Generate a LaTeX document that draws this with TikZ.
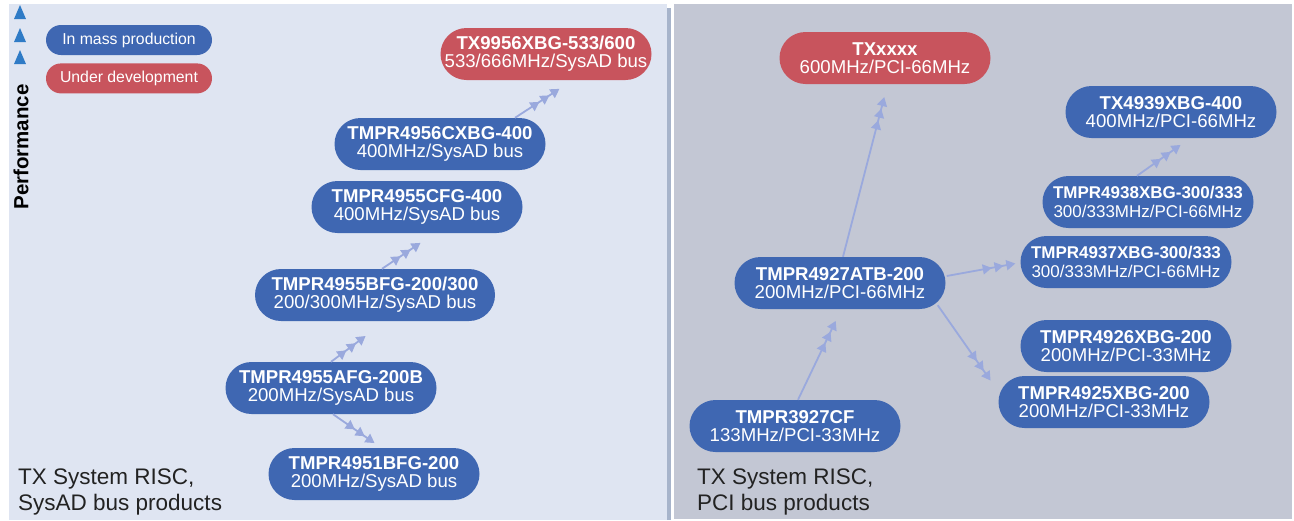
\documentclass[tikz,border=0pt]{standalone}
\usepackage{fontspec}
\setmainfont{Liberation Sans}
\usepackage{tikz}
\usetikzlibrary{shapes,arrows.meta,positioning}
\definecolor{chipblue}{RGB}{63,103,178}
\definecolor{devred}{RGB}{200,84,93}
\definecolor{sysadbg}{RGB}{223,229,242}
\definecolor{pcibg}{RGB}{195,199,212}
\definecolor{splitbar}{RGB}{167,180,203}
\definecolor{linkblue}{RGB}{154,169,221}
\definecolor{perfblue}{RGB}{47,123,198}
\definecolor{captiongray}{RGB}{34,34,34}
\tikzstyle{chip}=[rectangle, rounded corners=26pt, fill=chipblue, text=white, minimum width=211pt, minimum height=52pt, inner sep=1pt, align=center, font=\fontsize{18.6}{18.3}\selectfont]
\tikzstyle{devchip}=[chip, fill=devred]
\tikzstyle{narrowchip}=[chip, font=\fontsize{17}{18.3}\selectfont]
\tikzstyle{legend}=[rectangle, rounded corners=15pt, text=white, minimum width=166pt, minimum height=30pt, inner sep=0pt, font=\fontsize{15.8}{16}\selectfont]
\tikzstyle{caption}=[anchor=north west, align=left, inner sep=0pt, text=captiongray, font=\fontsize{22.5}{26}\selectfont]
\tikzstyle{upgrade}=[draw=linkblue, line width=1.8pt, -{Triangle[length=9pt,width=10pt,sep=3pt]Triangle[length=9pt,width=10pt,sep=3pt]Triangle[length=9pt,width=10pt,sep=3pt]}]

\begin{document}
\begin{tikzpicture}[x=1pt, y=-1pt]
    \useasboundingbox (0,0) rectangle (1294,520);
    \fill[white] (0,0) rectangle (1294,520);
    % panels
    \fill[sysadbg] (9,4) rectangle (667,520);
    \fill[splitbar] (667,8) rectangle (671,520);
    \fill[pcibg] (674,4) rectangle (1292,519);

    % performance scale
    \foreach \ty in {12,35,57}
        \fill[perfblue] (14,\ty+7) -- (26,\ty+7) -- (20,\ty-7) -- cycle;
    \node (perf) [rotate=90, font=\bfseries\fontsize{20.5}{20}\selectfont] at (21,147) {Performance};

    % legend
    \node (mass) [legend, fill=chipblue] at (129,40) {In mass production};
    \node (dev) [legend, fill=devred, below=8pt of mass] {Under development};

    % SysAD bus products
    \node (tx9956) [devchip] at (546,54)
        {
            \textbf{TX9956XBG-533/600}\\
            533/666MHz/SysAD bus
        };
    \node (cxbg) [chip] at (440,144)
        {
            \textbf{TMPR4956CXBG-400}\\
            400MHz/SysAD bus
        };
    \node (cfg) [chip] at (417,207)
        {
            \textbf{TMPR4955CFG-400}\\
            400MHz/SysAD bus
        };
    \node (bfg) [chip, minimum width=240pt] at (375,295)
        {
            \textbf{TMPR4955BFG-200/300}\\
            200/300MHz/SysAD bus
        };
    \node (afg) [chip] at (331,388)
        {
            \textbf{TMPR4955AFG-200B}\\
            200MHz/SysAD bus
        };
    \node (bfg1) [chip] at (374,474)
        {
            \textbf{TMPR4951BFG-200}\\
            200MHz/SysAD bus
        };

    % PCI bus products
    \node (txxxxx) [devchip] at (885,58)
        {
            \textbf{TXxxxx}\\
            600MHz/PCI-66MHz
        };
    \node (tx4939) [chip] at (1171,112)
        {
            \textbf{TX4939XBG-400}\\
            400MHz/PCI-66MHz
        };
    \node (x4938) [narrowchip] at (1148,202)
        {
            \textbf{TMPR4938XBG-300/333}\\
            300/333MHz/PCI-66MHz
        };
    \node (x4937) [narrowchip] at (1126,262)
        {
            \textbf{TMPR4937XBG-300/333}\\
            300/333MHz/PCI-66MHz
        };
    \node (atb) [chip] at (840,283)
        {
            \textbf{TMPR4927ATB-200}\\
            200MHz/PCI-66MHz
        };
    \node (x4926) [chip] at (1126,346)
        {
            \textbf{TMPR4926XBG-200}\\
            200MHz/PCI-33MHz
        };
    \node (x4925) [chip] at (1104,402)
        {
            \textbf{TMPR4925XBG-200}\\
            200MHz/PCI-33MHz
        };
    \node (cf3927) [chip] at (795,426)
        {
            \textbf{TMPR3927CF}\\
            133MHz/PCI-33MHz
        };

    % captions
    \node (sysadcap) [caption] at (18,469) {TX System RISC,\\SysAD bus products};
    \node (pcicap) [caption] at (697,469) {TX System RISC,\\PCI bus products};

    \draw[upgrade] ([xshift=2pt]afg.south) -- ([shift={(3pt,3pt)}]bfg1.north);
    \draw[upgrade] (afg.north) -- ([shift={(-7pt,-13pt)}]bfg.south);
    \draw[upgrade] ([xshift=7pt]bfg.north) -- ([shift={(6pt,-8pt)}]cfg.south);
    \draw[upgrade] ([xshift=75pt]cxbg.north) -- ([shift={(16pt,-7pt)}]tx9956.south);
    \draw[upgrade] ([xshift=3pt]cf3927.north) -- ([shift={(-3pt,-9pt)}]atb.south);
    \draw[upgrade] ([xshift=3pt]atb.north) -- ([yshift=-10pt]txxxxx.south);
    \draw[upgrade] ([shift={(1pt,7pt)}]atb.east) -- ([shift={(-2pt,-1pt)}]x4937.west);
    \draw[upgrade] ([shift={(-8pt,4pt)}]atb.south east) -- ([shift={(-6pt,19pt)}]x4925.west);
    \draw[upgrade] ([xshift=-11pt]x4938.north) -- ([shift={(12pt,-5pt)}]tx4939.south);
\end{tikzpicture}
\end{document}
